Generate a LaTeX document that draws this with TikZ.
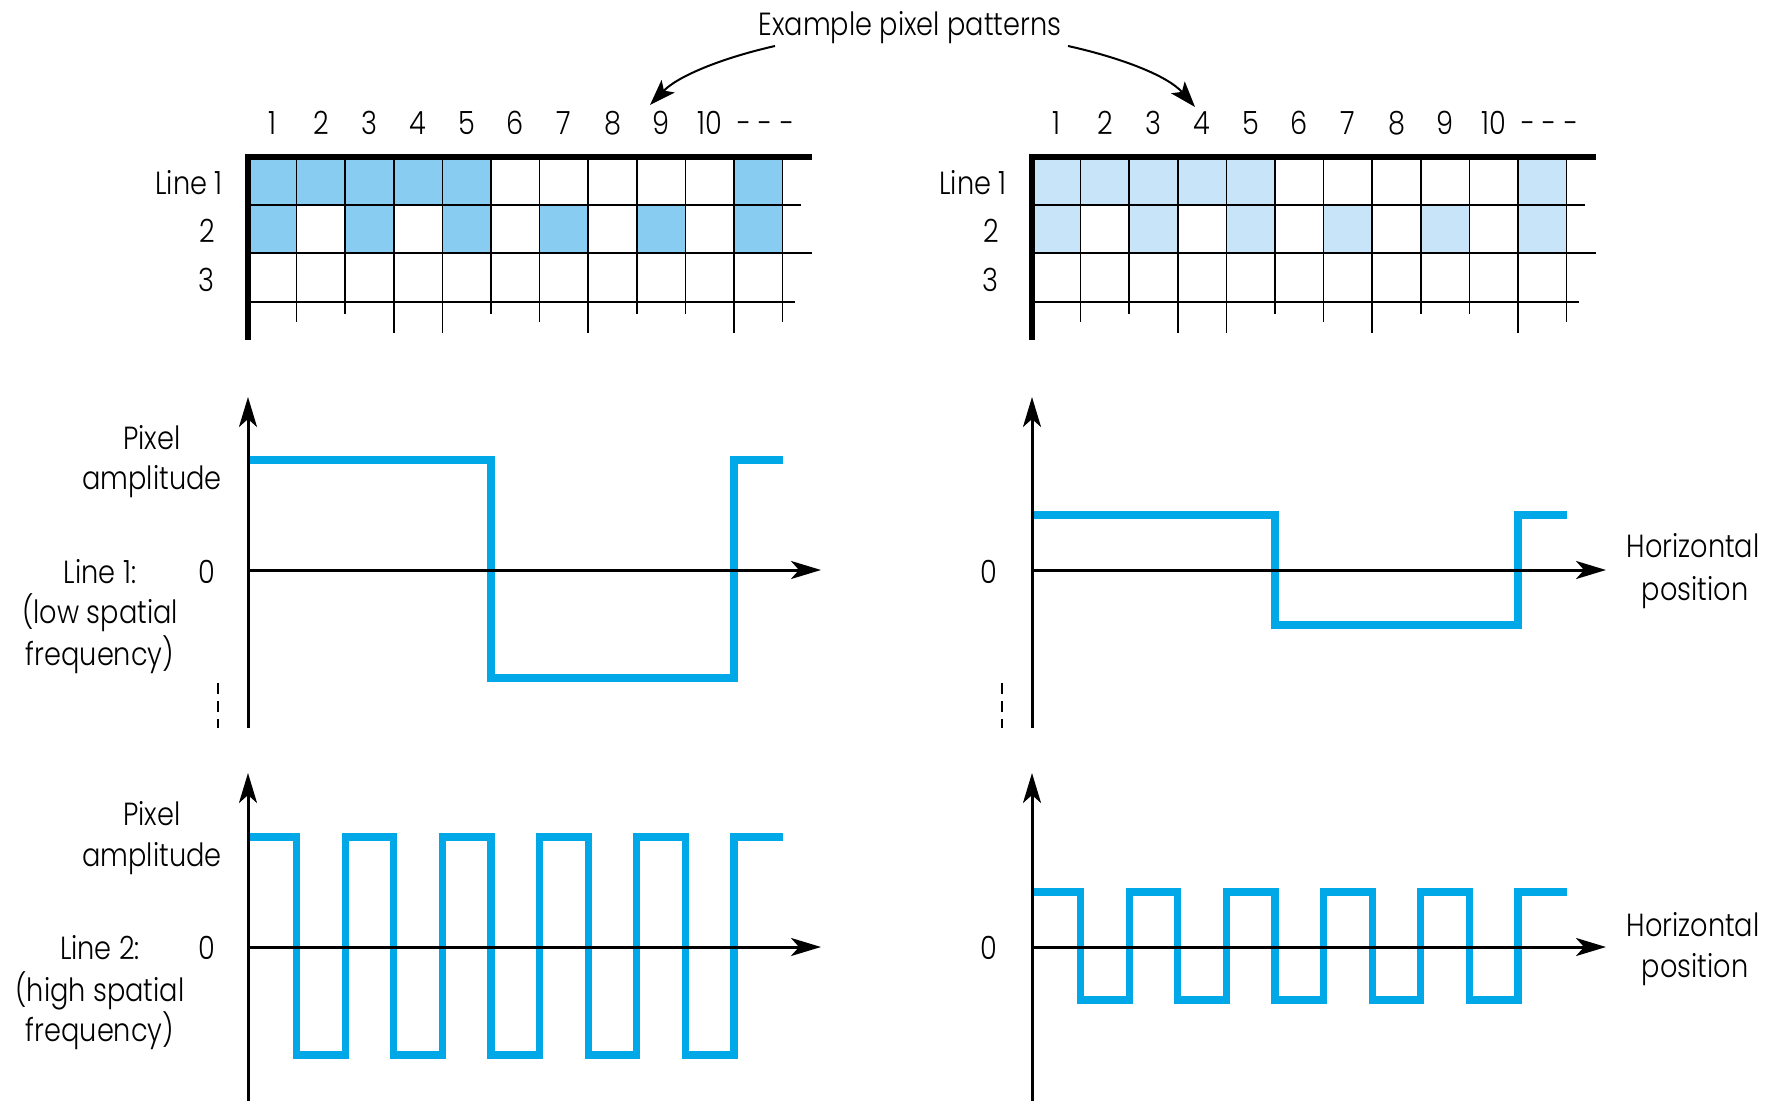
\documentclass[tikz,border=0pt]{standalone}
\usepackage{fontspec}
\IfFontExistsTF{Poppins Light}{\setmainfont{Poppins Light}[FakeStretch=0.85]}{\setmainfont{Poppins}[FakeStretch=0.85]}
\usetikzlibrary{arrows.meta}
\definecolor{cellA}{RGB}{136,204,242}
\definecolor{cellB}{RGB}{200,228,248}
\definecolor{wavec}{RGB}{0,168,232}
\tikzset{
  lbl/.style={inner sep=0pt, text height=0.72em, text depth=0pt, font=\fontsize{16}{19}\selectfont},
  gridline/.style={line width=0.75pt, black},
  gridthick/.style={line width=2.6pt, black, line cap=butt, line join=miter},
  wave/.style={line width=3.6pt, wavec, line join=miter},
  axis/.style={line width=1.5pt, black, -{Stealth[length=15pt,width=9pt,inset=4pt]}},
  dashmark/.style={line width=0.7pt, black, dash pattern=on 5.5pt off 3.5pt},
  pointer/.style={line width=1pt, black, -{Stealth[length=13pt,width=9pt,inset=3pt]}}
}
\begin{document}
\begin{tikzpicture}[x=0.5pt,y=-0.5pt]
\useasboundingbox (0,0) rectangle (1776,1101);

% ---------- pixel grids ----------
\foreach \X/\col/\gn in {248/cellA/L,1032/cellB/R}{
  \foreach \i in {0,1,2,3,4,10}
    \fill[\col] ({\X+\i*48.6},157) rectangle ({\X+(\i+1)*48.6},205);
  \foreach \i in {0,2,4,6,8,10}
    \fill[\col] ({\X+\i*48.6},205) rectangle ({\X+(\i+1)*48.6},253);
  \foreach \k/\b in {1/322,2/314,3/333,4/333,5/314,6/322,7/333,8/314,9/314,10/333,11/322}
    \draw[gridline] ({\X+\k*48.6},157) -- ({\X+\k*48.6},\b);
  \draw[gridline] (\X,205) -- ({\X+553},205);
  \draw[gridline] (\X,253) -- ({\X+564},253);
  \draw[gridline] (\X,302) -- ({\X+547},302);
  \draw[gridthick] (\X,340) -- (\X,157) -- ({\X+564},157);
  \foreach \i in {1,...,10}
    \node[lbl] (col\gn\i) at ({\X+(\i-0.5)*48.6},127) {\i};
  \node[lbl] (dots\gn) at ({\X+518},127) {- - -};
  \node[lbl, anchor=east] (row\gn1) at ({\X-25},187) {Line 1};
  \node[lbl, anchor=east] (row\gn2) at ({\X-33},235) {2};
  \node[lbl, anchor=east] (row\gn3) at ({\X-33},284) {3};
}

% ---------- title and pointers ----------
\node[lbl] (title) at (910,28) {Example pixel patterns};
\coordinate (pL) at (775,46);
\coordinate (tL) at (650,105);
\coordinate (pR) at (1068,46);
\coordinate (tR) at (1195,107);
\draw[pointer] (pL) .. controls (722,58) and (678,76) .. (tL);
\draw[pointer] (pR) .. controls (1122,58) and (1168,76) .. (tR);

% ---------- waveforms ----------
\draw[wave] (248,460) -| (491,678) -| (734,460) -- (782.6,460);
\draw[wave] (1032,515) -| (1275,625) -| (1518,515) -- (1566.6,515);
\draw[wave] (248,837) -| (296.6,1055) -| (345.2,837) -| (393.8,1055) -| (442.4,837)
  -| (491,1055) -| (539.6,837) -| (588.2,1055) -| (636.8,837) -| (685.4,1055)
  -| (734,837) -- (782.6,837);
\draw[wave] (1032,892) -| (1080.6,1000) -| (1129.2,892) -| (1177.8,1000) -| (1226.4,892)
  -| (1275,1000) -| (1323.6,892) -| (1372.2,1000) -| (1420.8,892) -| (1469.4,1000)
  -| (1518,892) -- (1566.6,892);

% ---------- axes ----------
\coordinate (a1b) at (248,728);  \coordinate (a1t) at (248,397);
\coordinate (a1o) at (248,570);  \coordinate (a1r) at (821,570);
\coordinate (a2b) at (1032,728); \coordinate (a2t) at (1032,397);
\coordinate (a2o) at (1032,570); \coordinate (a2r) at (1606,570);
\coordinate (a3b) at (248,1101); \coordinate (a3t) at (248,773);
\coordinate (a3o) at (248,947);  \coordinate (a3r) at (821,947);
\coordinate (a4b) at (1032,1101);\coordinate (a4t) at (1032,773);
\coordinate (a4o) at (1032,947); \coordinate (a4r) at (1606,947);
\foreach \n in {1,2,3,4}{
  \draw[axis] (a\n b) -- (a\n t);
  \draw[axis] (a\n o) -- (a\n r);
}

% dashed continuation marks
\coordinate (d1a) at (218,683); \coordinate (d1b) at (218,728);
\coordinate (d2a) at (1002,683); \coordinate (d2b) at (1002,728);
\draw[dashmark] (d1a) -- (d1b);
\draw[dashmark] (d2a) -- (d2b);

% ---------- labels ----------
\node[lbl] (px1) at (152,442) {Pixel};
\node[lbl] (am1) at (152,482) {amplitude};
\node[lbl] (ln1) at (100,576) {Line 1:};
\node[lbl] (z1) at (207,576) {0};
\node[lbl] (lo1) at (100,616) {(low spatial};
\node[lbl] (fr1) at (100,658) {frequency)};
\node[lbl] (z2) at (989,576) {0};
\node[lbl] (hz2) at (1693,550) {Horizontal};
\node[lbl] (ps2) at (1695,593) {position};

\node[lbl] (px3) at (152,818) {Pixel};
\node[lbl] (am3) at (152,859) {amplitude};
\node[lbl] (ln3) at (100,952) {Line 2:};
\node[lbl] (z3) at (207,952) {0};
\node[lbl] (hi3) at (100,994) {(high spatial};
\node[lbl] (fr3) at (100,1034) {frequency)};
\node[lbl] (z4) at (989,952) {0};
\node[lbl] (hz4) at (1693,929) {Horizontal};
\node[lbl] (ps4) at (1695,970) {position};
\end{tikzpicture}
\end{document}
